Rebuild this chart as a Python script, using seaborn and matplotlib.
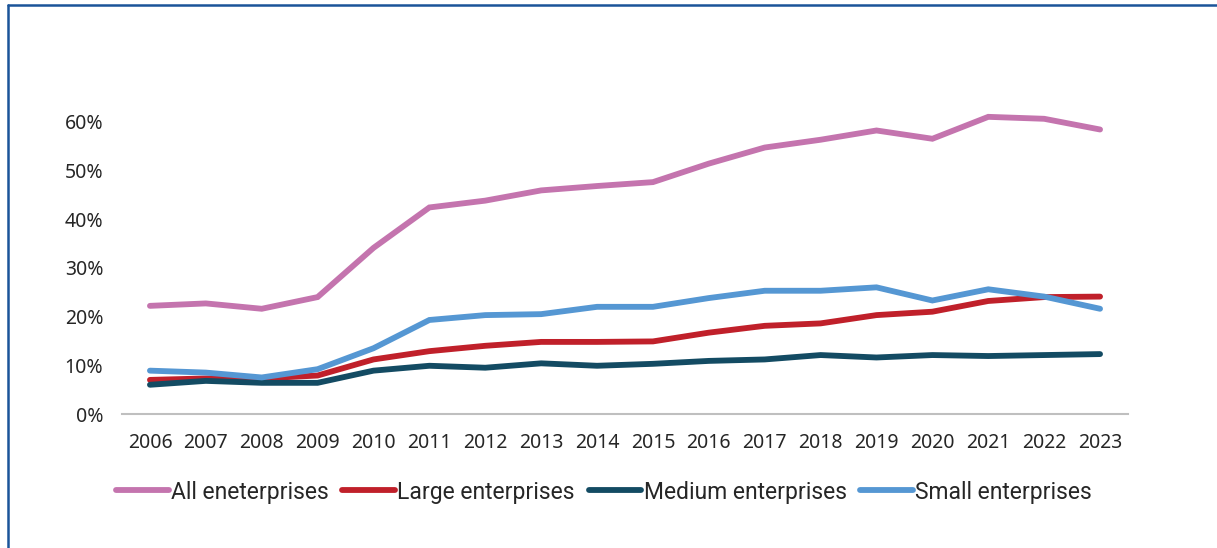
import matplotlib
matplotlib.use("Agg")
import matplotlib.pyplot as plt
from matplotlib.lines import Line2D
import numpy as np
import pandas as pd
import seaborn as sns

years = [str(y) for y in range(2006, 2024)]
all_ent = [22.2, 22.7, 21.6, 24.0, 34.1, 42.4, 43.8, 45.9, 46.8, 47.6,
           51.4, 54.7, 56.3, 58.2, 56.5, 61.0, 60.6, 58.4]
large_ent = [7.0, 7.3, 7.3, 7.9, 11.2, 12.9, 14.0, 14.8, 14.8, 14.9,
             16.7, 18.1, 18.6, 20.3, 21.0, 23.2, 24.0, 24.1]
medium_ent = [6.0, 6.8, 6.4, 6.4, 8.9, 9.9, 9.5, 10.4, 9.9, 10.3,
              10.9, 11.2, 12.1, 11.6, 12.1, 11.9, 12.1, 12.3]
small_ent = [8.9, 8.5, 7.5, 9.2, 13.5, 19.3, 20.3, 20.5, 22.0, 22.0,
             23.8, 25.3, 25.3, 26.0, 23.3, 25.6, 24.1, 21.6]

series_names = ["All eneterprises", "Large enterprises",
                "Medium enterprises", "Small enterprises"]
series_values = [all_ent, large_ent, medium_ent, small_ent]
colors = ["#C474AE", "#C0202A", "#134B63", "#5597D3"]
y_ticks = [0, 10, 20, 30, 40, 50, 60]

df = pd.DataFrame({
    "year": np.tile(years, len(series_names)),
    "pos": np.tile(np.arange(len(years)), len(series_names)),
    "value": np.concatenate(series_values),
    "series": np.repeat(series_names, len(years)),
})

sns.set_theme(style="white")
plt.rcParams["font.family"] = ["Noto Sans", "DejaVu Sans"]

fig = plt.figure(figsize=(12.17, 5.48), dpi=100)
ax = fig.add_axes([122 / 1217, 1 - 414 / 548, (1128 - 122) / 1217, (414 - 73) / 548])

sns.lineplot(data=df, x="pos", y="value", hue="series", hue_order=series_names,
             palette=colors, linewidth=4.2, ax=ax, legend=False, sort=False)
for line in ax.lines:
    line.set_solid_capstyle("round")
    line.set_solid_joinstyle("miter")

ax.set_xlim(-0.5, len(years) - 0.5)
ax.set_ylim(0, 70)
ax.set_xticks(range(len(years)))
ax.set_xticklabels(years)
ax.set_yticks(y_ticks)
ax.set_yticklabels([f"{v}%" for v in y_ticks])
ax.tick_params(axis="both", length=0, labelsize=14, colors="#262626")
ax.tick_params(axis="y", pad=13.5)
ax.tick_params(axis="x", pad=14)
ax.set_xlabel("")
ax.set_ylabel("")
for side in ["top", "right", "left"]:
    ax.spines[side].set_visible(False)
ax.spines["bottom"].set_color("#BFBFBF")
ax.spines["bottom"].set_linewidth(1.5)

handles = [Line2D([0], [0], color=c, linewidth=4.2, solid_capstyle="round")
           for c in colors]
fig.legend(handles, series_names, loc="center",
           bbox_to_anchor=(604 / 1217, 1 - 492 / 548), ncol=4, frameon=False,
           handlelength=2.3, handletextpad=0.1, columnspacing=0.6,
           prop={"family": ["Roboto", "DejaVu Sans"], "size": 16.5})
for t in fig.legends[0].get_texts():
    t.set_color("#262626")

# frame around the panel
frame_color = "#1A5499"
fig.add_artist(Line2D([8 / 1217, 1.0], [1 - 5 / 548, 1 - 5 / 548],
                      transform=fig.transFigure, color=frame_color, linewidth=1.8))
fig.add_artist(Line2D([8 / 1217, 8 / 1217], [0.0, 1 - 5 / 548],
                      transform=fig.transFigure, color=frame_color, linewidth=1.8))

fig.savefig("out.png", dpi=100, facecolor="white")
